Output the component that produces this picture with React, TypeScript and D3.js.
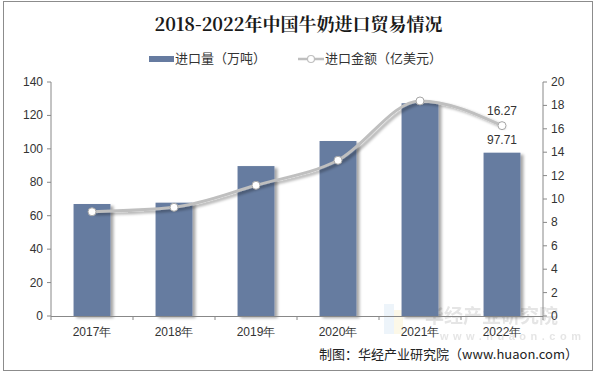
import React from "react";
import * as d3 from "d3";

const categories = ["2017年", "2018年", "2019年", "2020年", "2021年", "2022年"];
const volume = [67.0, 67.8, 89.7, 104.7, 127.3, 97.71];
const amount = [8.91, 9.29, 11.17, 13.31, 18.38, 16.27];
const leftTicks = [0, 20, 40, 60, 80, 100, 120, 140];
const rightTicks = [0, 2, 4, 6, 8, 10, 12, 14, 16, 18, 20];
const title = "2018-2022年中国牛奶进口贸易情况";
const legendBar = "进口量（万吨）";
const legendLine = "进口金额（亿美元）";
const source = "制图：华经产业研究院（www.huaon.com）";
const watermark = "华经产业研究院";
const watermarkUrl = "www.huaon.com";

export default function App() {
  const W = 597, H = 375;
  const left = 51, right = 543, top = 82, bottom = 316;
  const x = d3.scaleBand().domain(categories).range([left, right]).paddingInner(0.55).paddingOuter(0.275);
  const yL = d3.scaleLinear().domain([0, 140]).range([bottom, top]);
  const yR = d3.scaleLinear().domain([0, 20]).range([bottom, top]);
  const cx = (c: string) => (x(c) as number) + x.bandwidth() / 2;
  const line = d3.line<number>().x((_, i) => cx(categories[i])).y((d) => yR(d)).curve(d3.curveMonotoneX);
  const font = "Liberation Sans, Arial, sans-serif";
  const cjk = "'Noto Sans CJK SC', sans-serif";
  const step = (right - left) / categories.length;
  const barColor = "#667ba0";
  return (
    <svg width={W} height={H} style={{ position: "absolute", left: 0, top: 0 }}>
      <defs>
        <filter id="sh" x="-20%" y="-20%" width="150%" height="150%">
          <feGaussianBlur in="SourceAlpha" stdDeviation="1.5" />
          <feOffset dx="2.5" dy="2" result="b" />
          <feComponentTransfer><feFuncA type="linear" slope="0.35" /></feComponentTransfer>
          <feMerge><feMergeNode /><feMergeNode in="SourceGraphic" /></feMerge>
        </filter>
      </defs>
      <rect x={0} y={0} width={W} height={H} fill="#fff" />
      <rect x={3.5} y={1.5} width={589} height={369} fill="#fff" stroke="#8c8c8c" strokeWidth={1} />
      <text x={W / 2} y={31} textAnchor="middle" fontFamily="'Noto Serif CJK SC', 'Noto Sans CJK SC', serif" fontSize={18} fontWeight="bold" fill="#1a1a1a">{title}</text>
      {/* legend */}
      <rect x={149} y={56} width={25} height={6} fill={barColor} />
      <text x={175} y={63} fontFamily={cjk} fontSize={13} fill="#333">{legendBar}</text>
      <line x1={298} y1={59} x2={324} y2={59} stroke="#bfbfbf" strokeWidth={2.5} />
      <circle cx={311} cy={59} r={3.5} fill="#fff" stroke="#bfbfbf" strokeWidth={1.2} />
      <text x={325} y={63} fontFamily={cjk} fontSize={13} fill="#333">{legendLine}</text>
      {/* watermark */}
      <g opacity={0.25}>
        <rect x={384} y={304} width={10} height={30} fill="#bcd4ec" />
        <rect x={394} y={310} width={9} height={24} fill="#f5e6a8" />
        <text x={425} y={323} fontFamily={cjk} fontSize={19} fontWeight="bold" fill="#999">{watermark}</text>
        <text x={440} y={340} fontFamily={font} fontSize={11} fontWeight="bold" fill="#999" letterSpacing={4.5}>{watermarkUrl}</text>
      </g>
      {/* bars */}
      {volume.map((v, i) => (
        <rect key={i} x={x(categories[i])} y={yL(v)} width={x.bandwidth()} height={bottom - yL(v)} fill={barColor} filter="url(#sh)" />
      ))}
      {/* axes */}
      <line x1={left} y1={top} x2={left} y2={bottom} stroke="#888" />
      <line x1={right} y1={top} x2={right} y2={bottom} stroke="#888" />
      <line x1={left} y1={bottom + 0.5} x2={right} y2={bottom + 0.5} stroke="#888" />
      {leftTicks.map((t) => (
        <g key={"l" + t}>
          <line x1={left - 4} x2={left} y1={yL(t)} y2={yL(t)} stroke="#888" />
          <text x={left - 8} y={yL(t) + 4} textAnchor="end" fontFamily={font} fontSize={12} fill="#333">{t}</text>
        </g>
      ))}
      {rightTicks.map((t) => (
        <g key={"r" + t}>
          <line x1={right} x2={right + 4} y1={yR(t)} y2={yR(t)} stroke="#888" />
          <text x={right + 8} y={yR(t) + 4} textAnchor="start" fontFamily={font} fontSize={12} fill="#333">{t}</text>
        </g>
      ))}
      {d3.range(categories.length + 1).map((i) => (
        <line key={"xt" + i} x1={left + i * step} x2={left + i * step} y1={bottom} y2={bottom + 4} stroke="#888" />
      ))}
      {categories.map((c) => (
        <text key={c} x={cx(c)} y={bottom + 20} textAnchor="middle" fontFamily={font} fontSize={12} fill="#333">{c}</text>
      ))}
      {/* line */}
      <path d={line(amount) || ""} fill="none" stroke="#bfbfbf" strokeWidth={3} filter="url(#sh)" />
      {amount.map((v, i) => (
        <circle key={i} cx={cx(categories[i])} cy={yR(v)} r={4} fill="#fff" stroke="#a6a6a6" strokeWidth={1} />
      ))}
      <text x={cx(categories[5])} y={yR(amount[5]) - 11} textAnchor="middle" fontFamily={font} fontSize={12} fill="#333">{amount[5].toFixed(2)}</text>
      <text x={cx(categories[5])} y={yL(volume[5]) - 9} textAnchor="middle" fontFamily={font} fontSize={12} fill="#333">{volume[5].toFixed(2)}</text>
      <text x={578} y={359} textAnchor="end" fontFamily={cjk} fontSize={13} fill="#222">{source}</text>
    </svg>
  );
}
